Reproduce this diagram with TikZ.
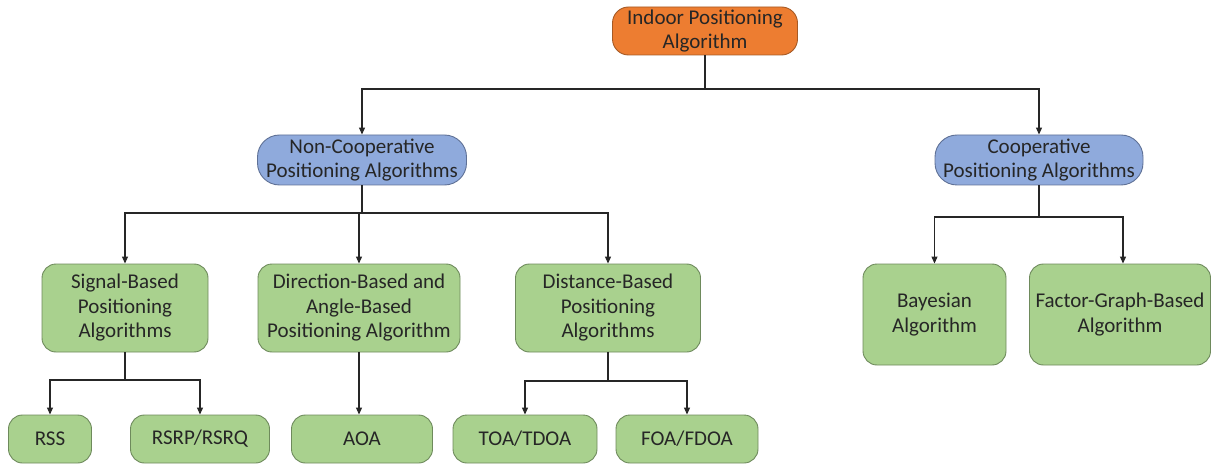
\documentclass[tikz,border=0pt]{standalone}
\usepackage{fontspec}
\setmainfont{Carlito}
\usetikzlibrary{arrows.meta}
\definecolor{rootfill}{HTML}{ED7D31}
\definecolor{rootdraw}{HTML}{A65A25}
\definecolor{midfill}{HTML}{8FAADC}
\definecolor{middraw}{HTML}{5F7196}
\definecolor{leaffill}{HTML}{A9D18E}
\definecolor{leafdraw}{HTML}{6E8A5C}
\begin{document}
\begin{tikzpicture}[x=1pt,y=-1pt,
  box/.style={draw, line width=0.9pt, align=center, inner sep=0pt,
    font=\fontsize{21}{24.5}\selectfont, text=black!85},
  rootbox/.style={box, fill=rootfill, draw=rootdraw, rounded corners=16pt},
  midbox/.style={box, fill=midfill, draw=middraw, rounded corners=22pt},
  leafbox/.style={box, fill=leaffill, draw=leafdraw, rounded corners=14pt},
  link/.style={line width=1.1pt, black!85},
  arr/.style={link, -{Triangle[length=7pt,width=6pt]}}]
\useasboundingbox (0,0) rectangle (1212,465);

% top level
\node[rootbox, minimum width=185pt, minimum height=48pt] (root) at (705,31)
  {Indoor Positioning\\Algorithm};

% second level
\node[midbox, minimum width=209pt, minimum height=50pt] (nc) at (362,160)
  {Non-Cooperative\\Positioning Algorithms};
\node[midbox, minimum width=208pt, minimum height=50pt] (co) at (1039,160)
  {Cooperative\\Positioning Algorithms};

% non-cooperative families
\node[leafbox, minimum width=166pt, minimum height=88pt] (sig) at (125,308)
  {Signal-Based\\Positioning\\Algorithms};
\node[leafbox, minimum width=202pt, minimum height=88pt] (dir) at (359,308)
  {Direction-Based and\\Angle-Based\\Positioning Algorithm};
\node[leafbox, minimum width=185pt, minimum height=88pt] (dist) at (608,308)
  {Distance-Based\\Positioning\\Algorithms};

% cooperative families
\node[leafbox, minimum width=143pt, minimum height=101pt] (bay) at (934.5,314.5)
  {Bayesian\\Algorithm};
\node[leafbox, minimum width=181pt, minimum height=101pt] (fg) at (1120,314.5)
  {Factor-Graph-Based\\Algorithm};

% bottom row
\node[leafbox, minimum width=83pt, minimum height=48pt] (rss) at (50,439) {RSS};
\node[leafbox, minimum width=139pt, minimum height=48pt] (rsrp) at (200,439) {RSRP/RSRQ};
\node[leafbox, minimum width=141pt, minimum height=48pt] (aoa) at (362,439) {AOA};
\node[leafbox, minimum width=144pt, minimum height=48pt] (toa) at (525,439) {TOA/TDOA};
\node[leafbox, minimum width=142pt, minimum height=48pt] (foa) at (687,439) {FOA/FDOA};

% junction points
\coordinate (j0) at (705,89);
\coordinate (j1) at (362,213);
\coordinate (j2) at (1039,217);
\coordinate (j3) at (125,380);
\coordinate (j4) at (608,381);

% connectors
\draw[link] (root.south) -- (j0);
\draw[arr] (j0) -| (nc.north);
\draw[arr] (j0) -| (co.north);

\draw[link] (nc.south) -- (j1);
\draw[arr] (j1) -| (sig.north);
\draw[arr] (j1) -| (dir.north);
\draw[arr] (j1) -| (dist.north);

\draw[link] (co.south) -- (j2);
\draw[arr] (j2) -| (bay.north);
\draw[arr] (j2) -| ([xshift=3pt]fg.north);

\draw[link] (sig.south) -- (j3);
\draw[arr] (j3) -| (rss.north);
\draw[arr] (j3) -| (rsrp.north);

\draw[arr] (dir.south) -- (dir.south |- aoa.north);

\draw[link] (dist.south) -- (j4);
\draw[arr] (j4) -| (toa.north);
\draw[arr] (j4) -| (foa.north);
\end{tikzpicture}
\end{document}
